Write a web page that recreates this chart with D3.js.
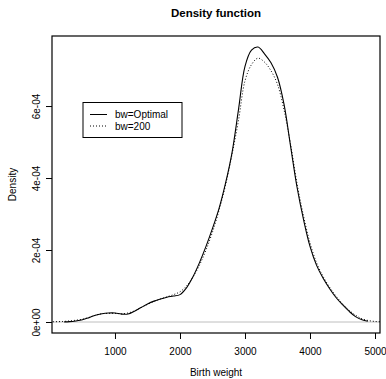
<!DOCTYPE html>
<html><head><meta charset="utf-8">
<script src="https://cdn.jsdelivr.net/npm/d3@7"></script>
<style>body{margin:0;background:#fff}svg{display:block}text{font-family:"Liberation Sans",Arial,sans-serif;fill:#000}</style>
</head><body><svg id="c" width="386" height="379"></svg>
<script>
// Data (density values in units of 1e-4)
const xOptimal = [218,300,400,500,600,700,800,900,1000,1100,1200,1300,1400,1500,1600,1700,1800,1900,2000,2100,2200,2300,2400,2500,2600,2700,2800,2900,3000,3100,3200,3300,3400,3500,3600,3700,3800,3900,4000,4100,4200,4300,4400,4500,4600,4700,4800,4890];
const yOptimal = [0.003,0.01,0.03,0.06,0.12,0.19,0.23,0.25,0.25,0.22,0.22,0.30,0.40,0.50,0.58,0.64,0.69,0.72,0.76,0.95,1.26,1.65,2.1,2.6,3.15,3.85,4.7,5.9,7.1,7.55,7.64,7.45,7.2,6.8,6.05,4.9,3.75,2.85,2.1,1.58,1.22,0.93,0.68,0.48,0.3,0.15,0.06,0.02];
const x200 = [0,200,300,400,500,600,700,800,900,1000,1100,1200,1300,1400,1500,1600,1700,1800,1900,2000,2100,2200,2300,2400,2500,2600,2700,2800,2900,3000,3100,3200,3300,3400,3500,3600,3700,3800,3900,4000,4100,4200,4300,4400,4500,4600,4700,4800,4900,5000,5100];
const y200 = [0.005,0.015,0.03,0.05,0.08,0.13,0.19,0.23,0.24,0.24,0.23,0.25,0.31,0.40,0.49,0.57,0.64,0.70,0.76,0.84,1.0,1.25,1.58,2.0,2.5,3.1,3.8,4.65,5.6,6.7,7.15,7.33,7.22,6.98,6.6,5.9,4.95,3.85,2.95,2.2,1.65,1.27,0.97,0.72,0.51,0.33,0.19,0.09,0.04,0.015,0.005];
const xTicks = [1000,2000,3000,4000,5000];
const yTicks = [0,2e-4,4e-4,6e-4];
const yTickLabels = ["0e+00","2e-04","4e-04","6e-04"];
const legendLabels = ["bw=Optimal","bw=200"];

const svg = d3.select("#c");
const L=52, R=380, T=36, B=333;
const FS=10;
const xr = [218,4890], xpad=(xr[1]-xr[0])*0.04;
const ymax = d3.max(yOptimal)*1e-4;
const x = d3.scaleLinear().domain([xr[0]-xpad, xr[1]+xpad]).range([L,R]);
const y = d3.scaleLinear().domain([-0.04*ymax, ymax*1.04]).range([B,T]);

svg.append("defs").append("clipPath").attr("id","clip").append("rect")
  .attr("x",L).attr("y",T).attr("width",R-L).attr("height",B-T);

// zero line
svg.append("line").attr("x1",L).attr("x2",R).attr("y1",y(0)).attr("y2",y(0))
  .attr("stroke","#bebebe").attr("stroke-width",1);

const line = d3.line().x(d=>x(d[0])).y(d=>y(d[1]*1e-4)).curve(d3.curveCatmullRom.alpha(0.5));
const g = svg.append("g").attr("clip-path","url(#clip)");
g.append("path").attr("d",line(x200.map((v,i)=>[v,y200[i]])))
  .attr("fill","none").attr("stroke","#000").attr("stroke-width",1).attr("stroke-dasharray","1,2");
g.append("path").attr("d",line(xOptimal.map((v,i)=>[v,yOptimal[i]])))
  .attr("fill","none").attr("stroke","#000").attr("stroke-width",1.1);

// box
svg.append("rect").attr("x",L).attr("y",T).attr("width",R-L).attr("height",B-T)
  .attr("fill","none").attr("stroke","#000").attr("stroke-width",1.2);

// axes
const xa = svg.append("g").attr("transform",`translate(0,${B})`)
  .call(d3.axisBottom(x).tickValues(xTicks).tickSize(6).tickSizeOuter(0).tickPadding(9).tickFormat(d3.format("d")));
xa.select(".domain").remove();
xa.selectAll("text").attr("font-size",FS).attr("font-family","Liberation Sans, Arial, sans-serif");
const ya = svg.append("g").attr("transform",`translate(${L},0)`)
  .call(d3.axisLeft(y).tickValues(yTicks).tickSize(6).tickSizeOuter(0).tickFormat((d,i)=>yTickLabels[i]));
ya.select(".domain").remove();
ya.selectAll("text").attr("font-size",FS).attr("font-family","Liberation Sans, Arial, sans-serif")
  .attr("x",null).attr("dy","0.35em").attr("y",0)
  .attr("text-anchor","middle").attr("transform","translate(-16,0) rotate(-90)");

// titles
svg.append("text").attr("x",(L+R)/2).attr("y",17).attr("text-anchor","middle")
  .attr("font-size",11.5).attr("font-weight","bold").text("Density function");
svg.append("text").attr("x",(L+R)/2).attr("y",376).attr("text-anchor","middle")
  .attr("font-size",FS).text("Birth weight");
svg.append("text").attr("transform",`translate(16,${(T+B)/2}) rotate(-90)`).attr("text-anchor","middle")
  .attr("font-size",FS).text("Density");

// legend
const lg = svg.append("g");
lg.append("rect").attr("x",83).attr("y",102.5).attr("width",99).attr("height",35)
  .attr("fill","#fff").attr("stroke","#000").attr("stroke-width",1);
legendLabels.forEach((t,i)=>{
  const yy = 114.5 + i*11.5;
  lg.append("line").attr("x1",90).attr("x2",107).attr("y1",yy).attr("y2",yy)
    .attr("stroke","#000").attr("stroke-width",1).attr("stroke-dasharray",i?"1,2":null);
  lg.append("text").attr("x",115).attr("y",yy).attr("dy","0.35em").attr("font-size",FS).text(t);
});
</script></body></html>
